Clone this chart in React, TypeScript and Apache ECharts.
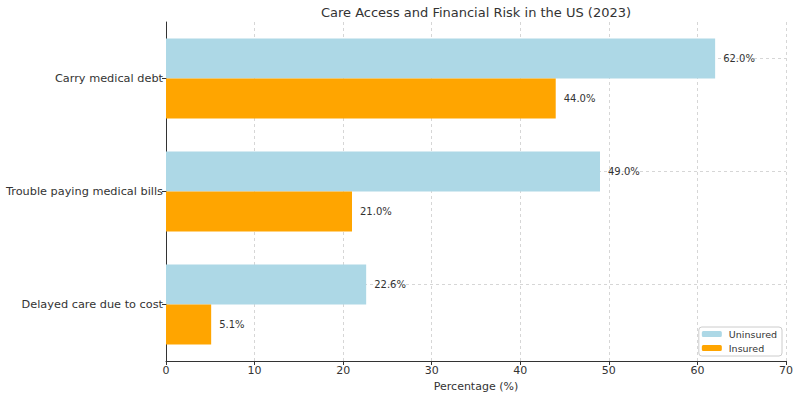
import React, { useEffect, useRef } from "react";
import * as echarts from "echarts";

const categories = ["Carry medical debt", "Trouble paying medical bills", "Delayed care due to cost"];
const uninsured = [62.0, 49.0, 22.6];
const insured = [44.0, 21.0, 5.1];
const xTicks = { min: 0, max: 70, interval: 10 };

export default function App() {
  const ref = useRef<HTMLDivElement>(null);
  useEffect(() => {
    const chart = echarts.init(ref.current!, null, { renderer: "svg" });
    const font = "DejaVu Sans";
    const labelCfg = {
      show: true,
      position: "right",
      distance: 8,
      fontSize: 10,
      color: "#333",
      fontFamily: font,
      formatter: (p: any) => p.value.toFixed(1) + "%",
    };
    chart.setOption({
      animation: false,
      textStyle: { fontFamily: font },
      title: {
        text: "Care Access and Financial Risk in the US (2023)",
        left: 471,
        textAlign: "center",
        top: 1,
        textStyle: { fontSize: 13, fontWeight: "normal", color: "#333", fontFamily: font },
      },
      grid: { left: 166, right: 14, top: 22, bottom: 36, outerBoundsMode: "none", containLabel: false },
      legend: {
        data: ["Uninsured", "Insured"],
        orient: "vertical",
        right: 18,
        bottom: 41,
        itemWidth: 20,
        itemHeight: 6,
        itemGap: 4,
        padding: [2, 5, 3, 3],
        borderColor: "#ccc",
        borderWidth: 1,
        borderRadius: 3,
        backgroundColor: "rgba(255,255,255,0.8)",
        textStyle: { fontSize: 9.5, color: "#333", fontFamily: font, padding: [0, 0, 0, 2] },
      },
      xAxis: {
        type: "value",
        min: xTicks.min,
        max: xTicks.max,
        interval: xTicks.interval,
        name: "Percentage (%)",
        nameLocation: "middle",
        nameGap: 12,
        nameTextStyle: { fontSize: 11, color: "#333", fontFamily: font },
        axisLine: { show: true, lineStyle: { color: "#333", width: 1 } },
        axisTick: { show: true, length: 4, lineStyle: { color: "#333" } },
        axisLabel: { fontSize: 11, color: "#333", margin: 4, fontFamily: font },
        splitLine: { show: true, lineStyle: { color: "#ccc", type: [3, 3], width: 0.8 } },
      },
      yAxis: {
        type: "category",
        data: categories,
        inverse: true,
        axisLine: { show: true, lineStyle: { color: "#333", width: 1 } },
        axisTick: { show: true, alignWithLabel: true, length: 4, lineStyle: { color: "#333" } },
        axisLabel: { fontSize: 11.3, color: "#333", margin: 3, fontFamily: font },
        splitLine: { show: false },
      },
      series: [
        {
          name: "Uninsured",
          type: "bar",
          data: uninsured,
          barWidth: 40,
          barGap: "0%",
          itemStyle: { color: "#ADD8E6" },
          label: labelCfg,
          z: 2,
          markLine: {
            silent: true,
            symbol: "none",
            z: 1,
            label: { show: false },
            lineStyle: { color: "#ccc", type: [3, 3], width: 0.8 },
            data: categories.map((c) => ({ yAxis: c })),
          },
        },
        {
          name: "Insured",
          type: "bar",
          data: insured,
          barWidth: 40,
          barGap: "0%",
          itemStyle: { color: "#FFA500" },
          label: labelCfg,
          z: 2,
        },
      ],
    });
    return () => chart.dispose();
  }, []);
  return <div ref={ref} style={{ width: 800, height: 397, position: "absolute", left: 0, top: 0 }} />;
}
